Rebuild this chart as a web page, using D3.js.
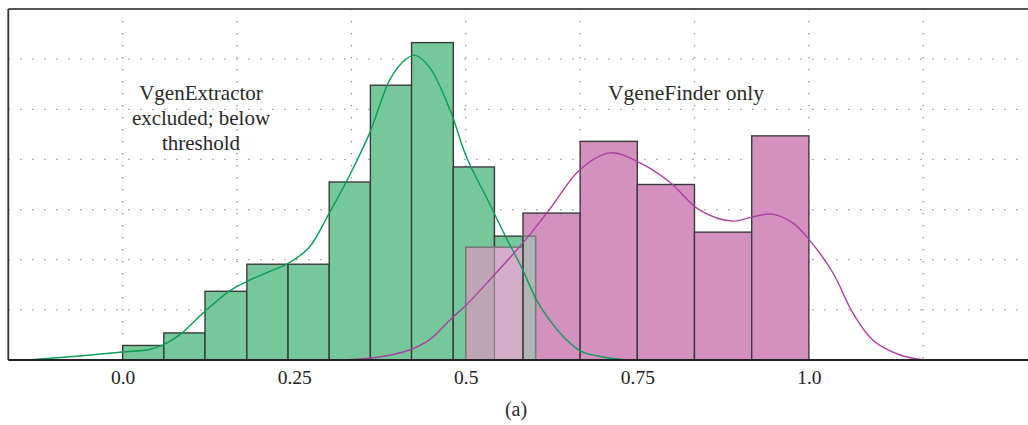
<!DOCTYPE html>
<html>
<head>
<meta charset="utf-8">
<script src="https://cdn.jsdelivr.net/npm/d3@7"></script>
<style>
  body { margin: 0; background: #fff; }
  svg { display: block; }
</style>
</head>
<body>
<svg id="chart" width="1028" height="425"></svg>
<script>
// histogram bins (score on x, density on y)
const greenEdges = [0, 0.060, 0.120, 0.181, 0.241, 0.301, 0.361, 0.421, 0.4818, 0.5418, 0.6019];
const greenHeights = [0.29, 0.54, 1.37, 1.91, 1.91, 3.55, 5.48, 6.33, 3.85, 2.47];

const pinkEdges = [0.5, 0.5834, 0.6667, 0.75, 0.8333, 0.9167, 1.0];
const pinkHeights = [2.25, 2.93, 4.36, 3.50, 2.55, 4.47];

// density curves
const greenCurveX = [-0.139, -0.063, 0.0, 0.039, 0.059, 0.083, 0.119, 0.156, 0.180, 0.210, 0.243, 0.272, 0.301,
  0.331, 0.360, 0.389, 0.408, 0.425, 0.447, 0.477, 0.501, 0.532, 0.557, 0.583, 0.603, 0.622, 0.647, 0.670, 0.700, 0.736];
const greenCurveY = [0, 0.08, 0.16, 0.21, 0.30, 0.50, 0.96, 1.38, 1.56, 1.74, 1.94, 2.25, 2.93,
  3.69, 4.53, 5.58, 5.94, 6.08, 5.84, 4.99, 4.05, 3.19, 2.49, 1.80, 1.20, 0.80, 0.40, 0.16, 0.06, 0];

const pinkCurveX = [0.316, 0.374, 0.418, 0.447, 0.477, 0.501, 0.539, 0.583, 0.622, 0.666, 0.710, 0.754, 0.797,
  0.841, 0.889, 0.917, 0.946, 0.977, 1.001, 1.035, 1.064, 1.093, 1.133, 1.169];
const pinkCurveY = [0, 0.06, 0.20, 0.40, 0.80, 1.10, 1.66, 2.33, 3.00, 3.79, 4.13, 3.93, 3.55,
  2.99, 2.77, 2.85, 2.91, 2.73, 2.39, 1.74, 0.94, 0.40, 0.10, 0];

const xTicks = [0, 0.25, 0.5, 0.75, 1.0];
const xTickLabels = ["0.0", "0.25", "0.5", "0.75", "1.0"];
const xGrid = [0, 1/6, 2/6, 3/6, 4/6, 5/6, 1, 7/6];
const yGrid = [1, 2, 3, 4, 5, 6];

const svg = d3.select("#chart");

const x = d3.scaleLinear().domain([-1/6, 4/3]).range([8.3, 1037.6]);
const y = d3.scaleLinear().domain([0, 7]).range([360, 9]);

const GREEN = "#76c799", PINK = "#d490be";
const serif = "'Liberation Serif', 'Times New Roman', serif";

// dotted grid
const grid = svg.append("g").attr("stroke", "#8a8a8a").attr("stroke-width", 1.3)
    .attr("stroke-dasharray", "1.3,10.7");
grid.selectAll("line.v").data(xGrid).join("line")
    .attr("x1", d => x(d)).attr("x2", d => x(d))
    .attr("y1", y(7)).attr("y2", y(0));
grid.selectAll("line.h").data(yGrid).join("line")
    .attr("x1", x(-1/6)).attr("x2", 1028)
    .attr("y1", d => y(d)).attr("y2", d => y(d));

// green histogram
const greenBins = greenHeights.map((h, i) => ({x0: greenEdges[i], x1: greenEdges[i + 1], h}));
svg.append("g").selectAll("rect").data(greenBins).join("rect")
    .attr("x", d => x(d.x0)).attr("width", d => x(d.x1) - x(d.x0))
    .attr("y", d => y(d.h)).attr("height", d => y(0) - y(d.h))
    .attr("fill", GREEN).attr("stroke", "#3b3b3b").attr("stroke-width", 1.4);

// pink histogram (first bin is the overlap zone, drawn separately)
const pinkBins = pinkHeights.map((h, i) => ({x0: pinkEdges[i], x1: pinkEdges[i + 1], h}));
svg.append("g").selectAll("rect").data(pinkBins.slice(1)).join("rect")
    .attr("x", d => x(d.x0)).attr("width", d => x(d.x1) - x(d.x0))
    .attr("y", d => y(d.h)).attr("height", d => y(0) - y(d.h))
    .attr("fill", PINK).attr("stroke", "#3b3b3b").attr("stroke-width", 1.4);

// overlap zone
const ov = svg.append("g");
const p0 = pinkBins[0];
ov.append("rect")
    .attr("x", x(p0.x0)).attr("width", x(p0.x1) - x(p0.x0))
    .attr("y", y(p0.h)).attr("height", y(0) - y(p0.h))
    .attr("fill", "#d4aec8");
ov.append("rect")
    .attr("x", x(p0.x0)).attr("width", x(greenEdges[9]) - x(p0.x0))
    .attr("y", y(p0.h)).attr("height", y(0) - y(p0.h))
    .attr("fill", "#bea5b5");
ov.append("rect")
    .attr("x", x(p0.x0)).attr("width", x(p0.x1) - x(p0.x0))
    .attr("y", y(p0.h)).attr("height", y(0) - y(p0.h))
    .attr("fill", "none").attr("stroke", "#7a7a7a").attr("stroke-width", 1.6);
ov.append("rect")
    .attr("x", x(pinkEdges[1])).attr("width", x(greenEdges[10]) - x(pinkEdges[1]))
    .attr("y", y(greenHeights[9])).attr("height", y(0) - y(greenHeights[9]))
    .attr("fill", "#b0b4b4").attr("stroke", "#7a7a7a").attr("stroke-width", 1.6);
ov.append("line")
    .attr("x1", x(greenEdges[9])).attr("x2", x(greenEdges[9]))
    .attr("y1", y(p0.h)).attr("y2", y(0))
    .attr("stroke", "#8a7a85").attr("stroke-width", 1.2);
ov.append("line")
    .attr("x1", x(pinkEdges[1])).attr("x2", x(pinkEdges[1]))
    .attr("y1", y(greenHeights[9])).attr("y2", y(0))
    .attr("stroke", "#333").attr("stroke-width", 1.3);

// density curves
const line = d3.line().x(d => x(d[0])).y(d => y(d[1])).curve(d3.curveCatmullRom.alpha(0.5));
svg.append("path").datum(greenCurveX.map((v, i) => [v, greenCurveY[i]]))
    .attr("d", line).attr("fill", "none").attr("stroke", "#0a9d55").attr("stroke-width", 1.4);
svg.append("path").datum(pinkCurveX.map((v, i) => [v, pinkCurveY[i]]))
    .attr("d", line).attr("fill", "none").attr("stroke", "#ab3ea3").attr("stroke-width", 1.4);

// frame
svg.append("line").attr("x1", x(-1/6)).attr("x2", 1028).attr("y1", y(7)).attr("y2", y(7))
    .attr("stroke", "#555").attr("stroke-width", 2);
svg.append("line").attr("x1", x(-1/6)).attr("x2", x(-1/6)).attr("y1", y(7)).attr("y2", y(0))
    .attr("stroke", "#333").attr("stroke-width", 1.8);
svg.append("line").attr("x1", x(-1/6)).attr("x2", 1028).attr("y1", y(0)).attr("y2", y(0))
    .attr("stroke", "#222").attr("stroke-width", 1.8);

// x axis labels
const axis = svg.append("g").attr("transform", `translate(0,${y(0)})`)
    .call(d3.axisBottom(x).tickValues(xTicks).tickSize(0).tickPadding(10)
        .tickFormat((d, i) => xTickLabels[i]));
axis.select(".domain").remove();
axis.selectAll("text").attr("font-family", serif).attr("font-size", 19.5).attr("fill", "#222");

// annotations
const note = svg.append("text").attr("font-family", serif).attr("font-size", 21).attr("fill", "#2a2a2a")
    .attr("text-anchor", "middle");
["VgenExtractor", "excluded; below", "threshold"].forEach((t, i) => {
  note.append("tspan").attr("x", 201).attr("y", 100 + i * 25).text(t);
});
svg.append("text").attr("x", 686).attr("y", 100).attr("text-anchor", "middle")
    .attr("font-family", serif).attr("font-size", 21.5).attr("fill", "#2a2a2a").text("VgeneFinder only");

svg.append("text").attr("x", 516).attr("y", 416).attr("text-anchor", "middle")
    .attr("font-family", serif).attr("font-size", 20).attr("fill", "#2a2a2a").text("(a)");
</script>
</body>
</html>
